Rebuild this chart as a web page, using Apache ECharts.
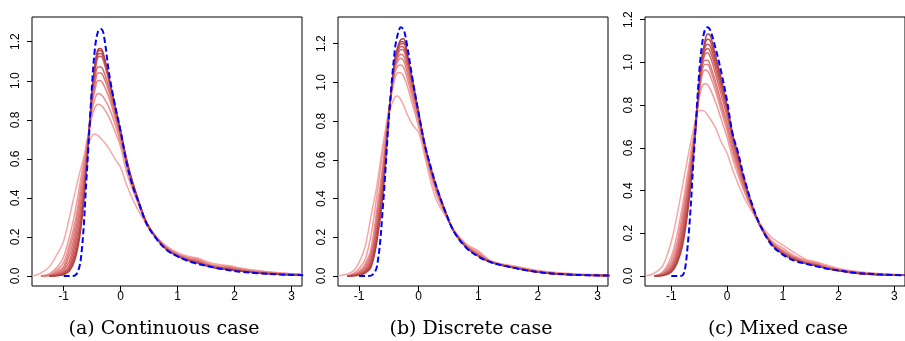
<!DOCTYPE html>
<html><head><meta charset="utf-8">
<script src="https://cdn.jsdelivr.net/npm/echarts@6/dist/echarts.min.js"></script>
<style>html,body{margin:0;padding:0;background:#fff;}#c{width:905px;height:341px;}</style>
</head><body><div id="c"></div>
<script>
// ---- tick values / labels ----
var xTicks = [-1, 0, 1, 2, 3];
var xTickLabels = ['-1', '0', '1', '2', '3'];
var yTicks = [0, 0.2, 0.4, 0.6, 0.8, 1.0, 1.2];
var yTickLabels = ['0.0', '0.2', '0.4', '0.6', '0.8', '1.0', '1.2'];
var captions = ['(a) Continuous case', '(b) Discrete case', '(c) Mixed case'];

// ---- panel (a): continuous case ----
var xA = [-1.55,-1.4,-1.25,-1.1,-1.0,-0.9,-0.8,-0.7,-0.6,-0.5,-0.45,-0.4,-0.35,-0.3,-0.2,-0.1,0,0.1,0.2,0.3,0.45,0.6,0.8,1.0,1.2,1.35,1.5,1.7,1.9,2.1,2.4,2.8,3.2];
var trueA = [null,null,null,null,0,0,0.003,0.085,0.50,0.99,1.17,1.25,1.265,1.24,1.03,0.875,0.74,0.585,0.47,0.39,0.27,0.20,0.135,0.10,0.075,0.062,0.052,0.04,0.03,0.022,0.014,0.008,0.004];
var estA = [
 [0,0.015,0.048,0.12,0.18,0.30,0.43,0.55,0.65,0.72,0.727,0.72,0.705,0.69,0.65,0.60,0.555,0.47,0.40,0.34,0.265,0.205,0.155,0.12,0.10,0.092,0.075,0.06,0.052,0.04,0.028,0.016,0.009],
 [null,0,0.012,0.05,0.10,0.20,0.33,0.50,0.68,0.82,0.865,0.88,0.875,0.86,0.81,0.74,0.66,0.535,0.45,0.375,0.275,0.21,0.15,0.115,0.095,0.09,0.07,0.055,0.052,0.04,0.026,0.015,0.008],
 [null,0,0.006,0.035,0.07,0.16,0.28,0.46,0.66,0.85,0.91,0.935,0.93,0.915,0.86,0.78,0.68,0.565,0.46,0.38,0.275,0.21,0.145,0.11,0.09,0.085,0.065,0.05,0.048,0.036,0.024,0.013,0.007],
 [null,0,0.004,0.025,0.05,0.135,0.25,0.43,0.64,0.88,0.955,1.0,1.0,0.98,0.91,0.81,0.70,0.575,0.47,0.385,0.275,0.205,0.145,0.11,0.088,0.08,0.062,0.048,0.045,0.034,0.022,0.012,0.007],
 [null,0,0.003,0.018,0.04,0.105,0.22,0.39,0.62,0.90,0.985,1.04,1.04,1.02,0.94,0.83,0.715,0.585,0.475,0.39,0.275,0.205,0.145,0.108,0.086,0.078,0.06,0.046,0.042,0.032,0.02,0.011,0.006],
 [null,null,0,0.012,0.03,0.075,0.19,0.35,0.60,0.92,1.015,1.07,1.07,1.05,0.96,0.84,0.72,0.59,0.48,0.39,0.275,0.205,0.142,0.106,0.084,0.075,0.058,0.044,0.04,0.03,0.019,0.01,0.006],
 [null,null,0,0.008,0.02,0.055,0.16,0.31,0.585,0.935,1.045,1.12,1.125,1.10,0.99,0.86,0.73,0.595,0.485,0.395,0.275,0.205,0.14,0.104,0.082,0.072,0.056,0.042,0.038,0.028,0.018,0.01,0.005],
 [null,null,0,0.005,0.015,0.042,0.13,0.28,0.57,0.945,1.065,1.135,1.14,1.115,1.0,0.865,0.735,0.60,0.485,0.395,0.275,0.205,0.14,0.103,0.08,0.07,0.055,0.041,0.036,0.027,0.017,0.009,0.005],
 [null,null,0,0.003,0.011,0.033,0.105,0.26,0.56,0.95,1.075,1.15,1.155,1.125,1.005,0.87,0.738,0.60,0.488,0.395,0.275,0.203,0.138,0.102,0.079,0.068,0.054,0.04,0.034,0.026,0.016,0.009,0.005],
 [null,null,0,0.002,0.008,0.025,0.085,0.24,0.55,0.95,1.085,1.16,1.165,1.135,1.01,0.872,0.74,0.60,0.49,0.395,0.275,0.202,0.137,0.101,0.078,0.066,0.053,0.039,0.032,0.025,0.015,0.008,0.005]
];

// ---- panel (b): discrete case ----
var xB = [-1.35,-1.2,-1.1,-1.0,-0.9,-0.8,-0.7,-0.6,-0.5,-0.4,-0.35,-0.3,-0.25,-0.2,-0.1,0,0.1,0.2,0.3,0.45,0.6,0.8,1.0,1.2,1.4,1.6,1.8,2.0,2.3,2.7,3.2];
var trueB = [null,null,null,0,0,0.002,0.05,0.36,0.82,1.17,1.25,1.285,1.27,1.2,1.01,0.84,0.68,0.565,0.46,0.33,0.225,0.145,0.10,0.072,0.055,0.042,0.03,0.02,0.011,0.005,0.002];
var estB = [
 [0,0.01,0.025,0.07,0.15,0.31,0.47,0.68,0.84,0.925,0.93,0.91,0.88,0.84,0.78,0.74,0.62,0.49,0.39,0.31,0.235,0.165,0.13,0.08,0.062,0.052,0.04,0.028,0.018,0.01,0.004],
 [null,0,0.012,0.04,0.085,0.21,0.42,0.65,0.86,1.02,1.05,1.05,1.03,0.99,0.88,0.77,0.64,0.52,0.42,0.315,0.23,0.16,0.125,0.078,0.06,0.05,0.037,0.026,0.016,0.008,0.004],
 [null,0,0.009,0.026,0.062,0.14,0.35,0.58,0.86,1.05,1.085,1.09,1.075,1.03,0.91,0.79,0.655,0.53,0.43,0.32,0.228,0.158,0.118,0.077,0.058,0.048,0.035,0.024,0.014,0.007,0.003],
 [null,0,0.007,0.02,0.05,0.12,0.32,0.56,0.855,1.07,1.11,1.125,1.11,1.06,0.93,0.805,0.665,0.54,0.44,0.322,0.226,0.155,0.112,0.076,0.057,0.046,0.034,0.023,0.013,0.006,0.003],
 [null,0,0.005,0.016,0.04,0.105,0.29,0.54,0.85,1.08,1.125,1.145,1.135,1.08,0.95,0.815,0.67,0.545,0.445,0.325,0.225,0.153,0.11,0.075,0.056,0.045,0.033,0.022,0.012,0.006,0.003],
 [null,0,0.004,0.013,0.033,0.09,0.27,0.52,0.845,1.09,1.14,1.17,1.165,1.11,0.97,0.825,0.675,0.55,0.45,0.327,0.225,0.152,0.108,0.074,0.056,0.044,0.032,0.021,0.012,0.005,0.002],
 [null,0,0.003,0.01,0.027,0.075,0.245,0.50,0.84,1.10,1.155,1.185,1.18,1.125,0.98,0.83,0.678,0.555,0.452,0.328,0.225,0.15,0.106,0.073,0.055,0.043,0.031,0.021,0.011,0.005,0.002],
 [null,0,0.002,0.008,0.022,0.065,0.22,0.48,0.835,1.11,1.165,1.2,1.2,1.14,0.99,0.835,0.68,0.557,0.455,0.33,0.225,0.149,0.105,0.073,0.055,0.043,0.031,0.021,0.011,0.005,0.002],
 [null,0,0.002,0.006,0.018,0.055,0.2,0.45,0.83,1.115,1.175,1.21,1.21,1.15,1.0,0.838,0.682,0.56,0.457,0.33,0.225,0.148,0.104,0.072,0.055,0.042,0.03,0.02,0.011,0.005,0.002],
 [null,0,0.001,0.005,0.015,0.045,0.18,0.42,0.82,1.12,1.185,1.222,1.225,1.16,1.005,0.84,0.683,0.562,0.458,0.33,0.225,0.147,0.103,0.072,0.055,0.042,0.03,0.02,0.011,0.005,0.002]
];

// ---- panel (c): mixed case ----
var xC = [-1.45,-1.3,-1.15,-1.0,-0.9,-0.8,-0.7,-0.6,-0.5,-0.45,-0.4,-0.35,-0.3,-0.2,-0.1,0,0.1,0.2,0.3,0.45,0.6,0.8,1.0,1.2,1.4,1.6,1.8,2.0,2.3,2.7,3.2];
var trueC = [null,null,null,0,0,0.002,0.16,0.55,0.95,1.08,1.15,1.165,1.15,1.06,0.95,0.82,0.665,0.575,0.466,0.335,0.235,0.145,0.10,0.072,0.058,0.045,0.034,0.026,0.015,0.008,0.003];
var estC = [
 [0,0.014,0.05,0.16,0.28,0.42,0.56,0.69,0.775,0.775,0.77,0.755,0.735,0.69,0.625,0.575,0.497,0.43,0.37,0.30,0.24,0.18,0.145,0.11,0.08,0.066,0.05,0.035,0.022,0.012,0.005],
 [null,0,0.02,0.09,0.19,0.33,0.49,0.66,0.83,0.885,0.9,0.895,0.875,0.81,0.73,0.65,0.55,0.47,0.40,0.31,0.235,0.165,0.13,0.095,0.075,0.063,0.045,0.032,0.02,0.01,0.004],
 [null,0,0.015,0.07,0.155,0.295,0.46,0.645,0.85,0.935,0.965,0.96,0.935,0.86,0.77,0.68,0.575,0.49,0.41,0.315,0.235,0.16,0.12,0.09,0.07,0.06,0.042,0.03,0.018,0.009,0.004],
 [null,0,0.012,0.055,0.13,0.27,0.44,0.635,0.86,0.955,0.99,0.99,0.965,0.885,0.79,0.70,0.59,0.50,0.415,0.318,0.234,0.158,0.117,0.088,0.068,0.057,0.04,0.029,0.017,0.008,0.004],
 [null,0,0.009,0.045,0.115,0.25,0.42,0.62,0.865,0.97,1.01,1.01,0.985,0.905,0.81,0.715,0.60,0.51,0.42,0.32,0.233,0.155,0.114,0.086,0.066,0.055,0.039,0.028,0.016,0.008,0.003],
 [null,0,0.007,0.038,0.10,0.225,0.40,0.61,0.87,0.985,1.035,1.045,1.025,0.94,0.845,0.745,0.625,0.525,0.435,0.322,0.232,0.153,0.111,0.084,0.064,0.053,0.038,0.027,0.015,0.007,0.003],
 [null,0,0.005,0.032,0.088,0.20,0.375,0.60,0.88,0.995,1.05,1.065,1.05,0.965,0.87,0.765,0.64,0.54,0.44,0.325,0.232,0.152,0.108,0.082,0.062,0.051,0.037,0.026,0.015,0.007,0.003],
 [null,0,0.004,0.027,0.076,0.18,0.35,0.59,0.89,1.005,1.065,1.085,1.075,0.985,0.89,0.78,0.65,0.55,0.448,0.327,0.232,0.15,0.106,0.08,0.061,0.05,0.036,0.026,0.014,0.007,0.003],
 [null,0,0.003,0.022,0.066,0.16,0.33,0.58,0.895,1.015,1.08,1.108,1.1,1.005,0.905,0.79,0.66,0.558,0.455,0.328,0.232,0.149,0.104,0.078,0.06,0.049,0.035,0.025,0.014,0.006,0.003],
 [null,0,0.002,0.018,0.058,0.14,0.31,0.57,0.90,1.025,1.095,1.133,1.125,1.025,0.92,0.80,0.665,0.565,0.46,0.33,0.232,0.148,0.102,0.077,0.059,0.048,0.034,0.025,0.013,0.006,0.003]
];

// ---- styles ----
var redColors = ['#f7a8a8','#f29c9c','#eb9090','#e48484','#dc7878','#d46c6c','#cc6262','#c45757','#bb4c4c','#b24242'];

var panels = [
  {x: xA, truth: trueA, est: estA, left: 32, xmin: -1.556, xmax: 3.181, ymin: -0.0512, ymax: 1.3265, cx: 164},
  {x: xB, truth: trueB, est: estB, left: 338, xmin: -1.354, xmax: 3.176, ymin: -0.0517, ymax: 1.338, cx: 471},
  {x: xC, truth: trueC, est: estC, left: 645, xmin: -1.471, xmax: 3.19, ymin: -0.0469, ymax: 1.2126, cx: 778}
];

function pairs(xs, ys) {
  var out = [];
  for (var i = 0; i < xs.length; i++) if (ys[i] !== null) out.push([xs[i], ys[i]]);
  return out;
}

var grids = [], xAxes = [], yAxes = [], series = [], graphics = [];
var labelFont = {color: '#000', fontFamily: 'Liberation Sans, Arial, sans-serif', fontSize: 12};
panels.forEach(function (p, k) {
  grids.push({left: p.left, top: 17, width: 270, height: 269, show: true, borderColor: '#000', borderWidth: 1, backgroundColor: 'transparent', containLabel: false});
  xAxes.push({type: 'value', gridIndex: k, min: p.xmin, max: p.xmax, position: 'bottom',
    axisLine: {show: false, onZero: false}, splitLine: {show: false},
    axisTick: {show: true, inside: false, length: 5, lineStyle: {color: '#000', width: 1}, customValues: xTicks},
    axisLabel: Object.assign({margin: 5, customValues: xTicks, formatter: function (v) { return xTickLabels[xTicks.indexOf(v)]; }}, labelFont)});
  yAxes.push({type: 'value', gridIndex: k, min: p.ymin, max: p.ymax, position: 'left',
    axisLine: {show: false, onZero: false}, splitLine: {show: false},
    axisTick: {show: true, inside: false, length: 5, lineStyle: {color: '#000', width: 1}, customValues: yTicks},
    axisLabel: Object.assign({margin: 10, rotate: 90, customValues: yTicks, formatter: function (v) { return yTickLabels[yTicks.indexOf(v)]; }}, labelFont)});
  p.est.forEach(function (ys, j) {
    series.push({type: 'line', xAxisIndex: k, yAxisIndex: k, data: pairs(p.x, ys), showSymbol: false, smooth: 0.35,
      lineStyle: {color: redColors[j], width: 1.5}, silent: true, z: 2 + j, clip: true});
  });
  series.push({type: 'line', xAxisIndex: k, yAxisIndex: k, data: pairs(p.x, p.truth), showSymbol: false, smooth: 0.35,
    lineStyle: {color: '#0000ff', width: 2, type: [6, 3]}, silent: true, z: 20, clip: true});
  graphics.push({type: 'text', x: p.cx, y: 329, style: {text: captions[k], fill: '#000', font: '19px "DejaVu Serif", serif', align: 'center', verticalAlign: 'middle'}});
});

var chart = echarts.init(document.getElementById('c'), null, {renderer: 'canvas'});
chart.setOption({animation: false, grid: grids, xAxis: xAxes, yAxis: yAxes, series: series, graphic: graphics});
</script>
</body></html>
